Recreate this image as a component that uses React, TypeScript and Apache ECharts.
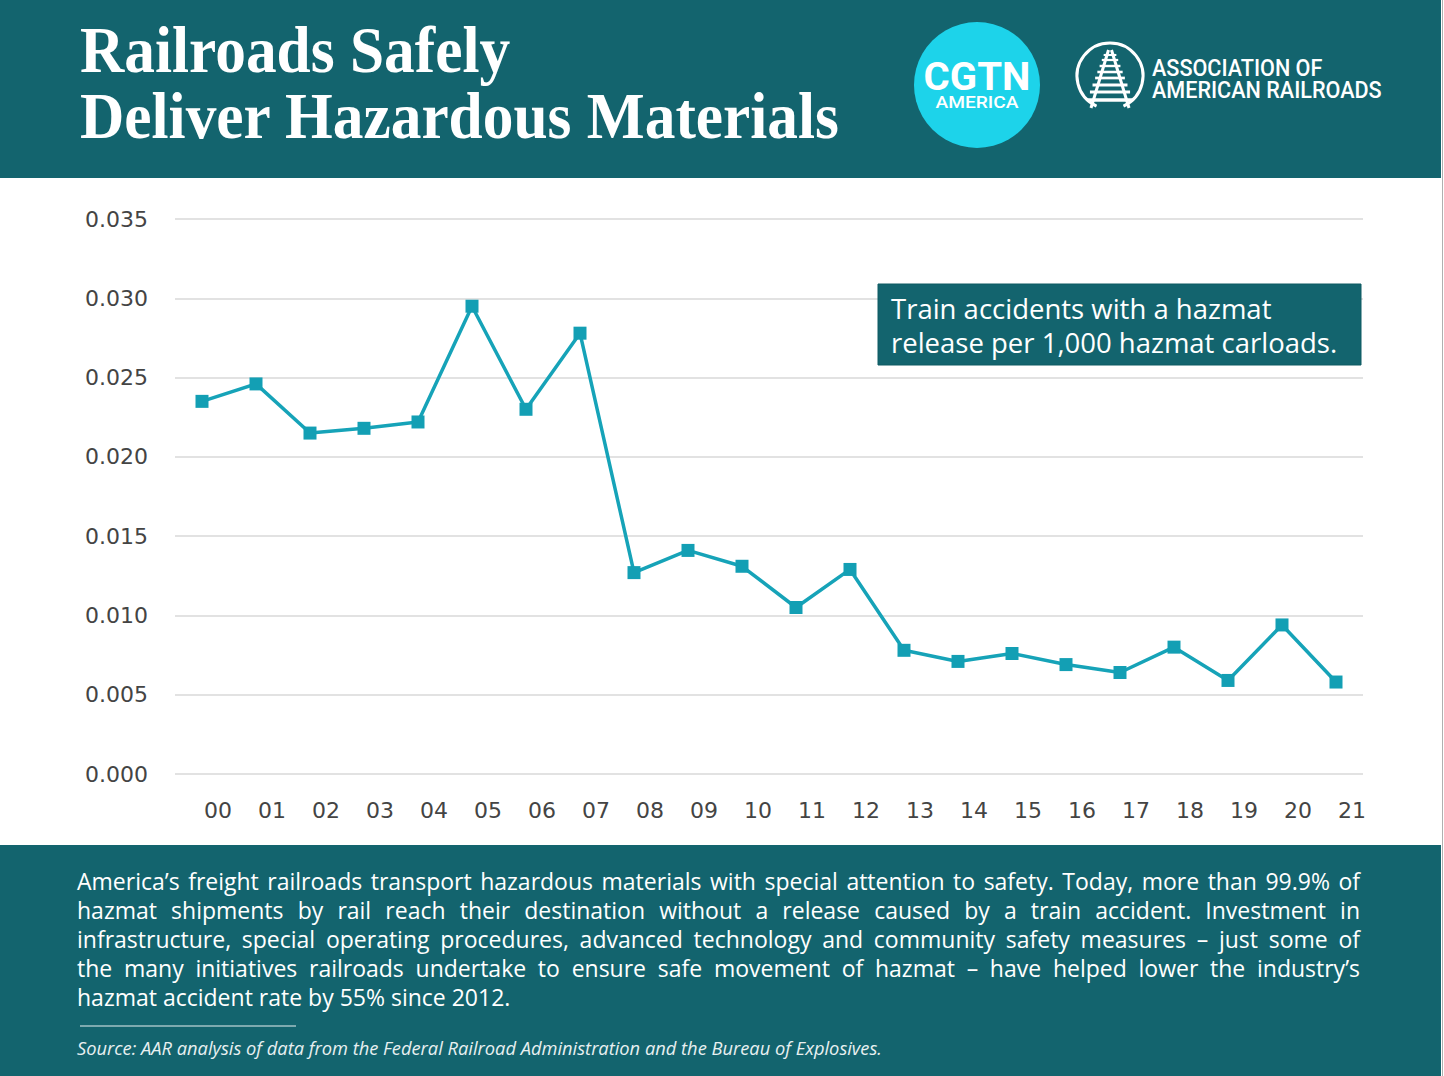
import React, { useEffect, useRef } from "react";
import * as echarts from "echarts";

const years = ["00","01","02","03","04","05","06","07","08","09","10","11","12","13","14","15","16","17","18","19","20","21"];
const rates = [0.0235,0.0246,0.0215,0.0218,0.0222,0.0295,0.0230,0.0278,0.0127,0.0141,0.0131,0.0105,0.0129,0.0078,0.0071,0.0076,0.0069,0.0064,0.0080,0.0059,0.0094,0.0058];
const yTicks = { min: 0, max: 0.035, interval: 0.005 };

const titleLines = ["Railroads Safely", "Deliver Hazardous Materials"];
const noteLines = ["Train accidents with a hazmat", "release per 1,000 hazmat carloads."];
const bodyLines = [
  "America’s freight railroads transport hazardous materials with special attention to safety. Today, more than 99.9% of",
  "hazmat shipments by rail reach their destination without a release caused by a train accident. Investment in",
  "infrastructure, special operating procedures, advanced technology and community safety measures – just some of",
  "the many initiatives railroads undertake to ensure safe movement of hazmat – have helped lower the industry’s",
  "hazmat accident rate by 55% since 2012.",
];
const sourceText = "Source: AAR analysis of data from the Federal Railroad Administration and the Bureau of Explosives.";

const TEAL = "#13646e";
const LINE = "#16a3b8";
const BODY_FONT = "'Open Sans'";
const AXIS_FONT = "DejaVu Sans";

function buildBody(): any[] {
  const els: any[] = [];
  const size = 23;
  const font = `${size}px ${BODY_FONT}`;
  const canvas = document.createElement("canvas");
  const ctx = canvas.getContext("2d")!;
  ctx.font = font;
  const left = 77, right = 1360, top = 881, lh = 29;
  bodyLines.forEach((line, i) => {
    const y = top + i * lh;
    const last = i === bodyLines.length - 1;
    if (last) {
      els.push({ type: "text", x: left, y, style: { text: line, font, fill: "#ffffff", verticalAlign: "middle", align: "left" } });
      return;
    }
    const words = line.split(" ");
    const widths = words.map((w) => ctx.measureText(w).width);
    const sum = widths.reduce((a, b) => a + b, 0);
    const gap = (right - left - sum) / (words.length - 1);
    let x = left;
    words.forEach((w, k) => {
      els.push({ type: "text", x, y, style: { text: w, font, fill: "#ffffff", verticalAlign: "middle", align: "left" } });
      x += widths[k] + gap;
    });
  });
  return els;
}

function aarLogo(): any[] {
  const cx = 1110, cy = 76, r = 33;
  const els: any[] = [];
  els.push({
    type: "arc",
    shape: { cx, cy, r, startAngle: Math.PI / 2 + 0.42, endAngle: Math.PI / 2 - 0.42 + Math.PI * 2, clockwise: true },
    style: { stroke: "#ffffff", lineWidth: 3, fill: null },
  });
  const apexY = 50, baseY = 108, halfBase = 19;
  els.push({ type: "line", shape: { x1: cx - 1.5, y1: apexY, x2: cx - halfBase, y2: baseY }, style: { stroke: "#fff", lineWidth: 3 } });
  els.push({ type: "line", shape: { x1: cx + 1.5, y1: apexY, x2: cx + halfBase, y2: baseY }, style: { stroke: "#fff", lineWidth: 3 } });
  const ties = [55, 60, 66, 72, 78, 85, 92, 100];
  ties.forEach((ty) => {
    const t = (ty - apexY) / (baseY - apexY);
    const hw = 1.5 + (halfBase - 1.5) * t + 3 + t * 4;
    els.push({ type: "line", shape: { x1: cx - hw, y1: ty, x2: cx + hw, y2: ty }, style: { stroke: "#fff", lineWidth: 2 + t * 1.5 } });
  });
  els.push({ type: "text", x: 1152, y: 68, scaleX: 0.9, style: { text: "ASSOCIATION OF", font: "500 24px Roboto", fill: "#fff", verticalAlign: "middle", align: "left" } });
  els.push({ type: "text", x: 1152, y: 90, scaleX: 0.9, style: { text: "AMERICAN RAILROADS", font: "500 24px Roboto", fill: "#fff", verticalAlign: "middle", align: "left" } });
  return els;
}

export default function App() {
  const ref = useRef<HTMLDivElement>(null);
  useEffect(() => {
    const chart = echarts.init(ref.current!, null, { renderer: "svg" });
    const graphic: any[] = [
      { type: "rect", z: -10, shape: { x: 0, y: 0, width: 1441, height: 178 }, style: { fill: TEAL } },
      { type: "rect", z: -10, shape: { x: 0, y: 845, width: 1441, height: 231 }, style: { fill: TEAL } },
      { type: "line", z: -9, shape: { x1: 1442.5, y1: 0, x2: 1442.5, y2: 1076 }, style: { stroke: "#b0b0b0", lineWidth: 1 } },
      { type: "text", x: 80, y: 50, scaleX: 0.93, style: { text: titleLines[0], font: "bold 66px 'Liberation Serif'", fill: "#ffffff", verticalAlign: "middle", align: "left" } },
      { type: "text", x: 80, y: 116, scaleX: 0.93, style: { text: titleLines[1], font: "bold 66px 'Liberation Serif'", fill: "#ffffff", verticalAlign: "middle", align: "left" } },
      { type: "circle", shape: { cx: 977, cy: 85, r: 63 }, style: { fill: "#1dd3ea" } },
      { type: "text", x: 977, y: 77, scaleX: 1.03, style: { text: "CGTN", font: "bold 39px Roboto", fill: "#ffffff", verticalAlign: "middle", align: "center" } },
      { type: "text", x: 977, y: 103, scaleX: 1.2, style: { text: "AMERICA", font: "500 16px Roboto", fill: "#ffffff", verticalAlign: "middle", align: "center" } },
      ...aarLogo(),
      { type: "rect", z: 100, shape: { x: 878, y: 284, width: 483, height: 81 }, style: { fill: TEAL, stroke: "#0f5a63", lineWidth: 1 } },
      { type: "text", z: 101, x: 891, y: 308, style: { text: noteLines[0], font: `27.5px ${BODY_FONT}`, fill: "#ffffff", verticalAlign: "middle", align: "left" } },
      { type: "text", z: 101, x: 891, y: 342, style: { text: noteLines[1], font: `27.5px ${BODY_FONT}`, fill: "#ffffff", verticalAlign: "middle", align: "left" } },
      ...buildBody(),
      { type: "line", shape: { x1: 80, y1: 1026, x2: 296, y2: 1026 }, style: { stroke: "#e8f0f1", lineWidth: 1 } },
      { type: "text", x: 77, y: 1047, style: { text: sourceText, font: `italic 18.3px ${BODY_FONT}`, fill: "#e8f0f1", verticalAlign: "middle", align: "left" } },
    ];
    chart.setOption({
      animation: false,
      backgroundColor: "#ffffff",
      grid: { left: 175, right: 81, top: 219, bottom: 302 },
      xAxis: {
        type: "category",
        data: years,
        boundaryGap: true,
        axisLine: { show: false },
        axisTick: { show: false },
        axisLabel: { color: "#444444", fontFamily: AXIS_FONT, fontSize: 22, margin: 25, padding: [0, 0, 0, 32] },
      },
      yAxis: {
        type: "value",
        min: yTicks.min,
        max: yTicks.max,
        interval: yTicks.interval,
        axisLine: { show: false },
        axisTick: { show: false },
        splitLine: { lineStyle: { color: "#d9d9d9", width: 1.5 } },
        axisLabel: { color: "#444444", fontFamily: AXIS_FONT, fontSize: 22, margin: 27, formatter: (v: number) => v.toFixed(3) },
      },
      series: [
        {
          type: "line",
          data: rates,
          symbol: "rect",
          symbolSize: 13,
          lineStyle: { color: LINE, width: 3.5 },
          itemStyle: { color: "#139fb4" },
        },
      ],
      graphic,
    });
    return () => chart.dispose();
  }, []);
  return <div ref={ref} style={{ position: "fixed", left: 0, top: 0, width: 1444, height: 1076 }} />;
}
